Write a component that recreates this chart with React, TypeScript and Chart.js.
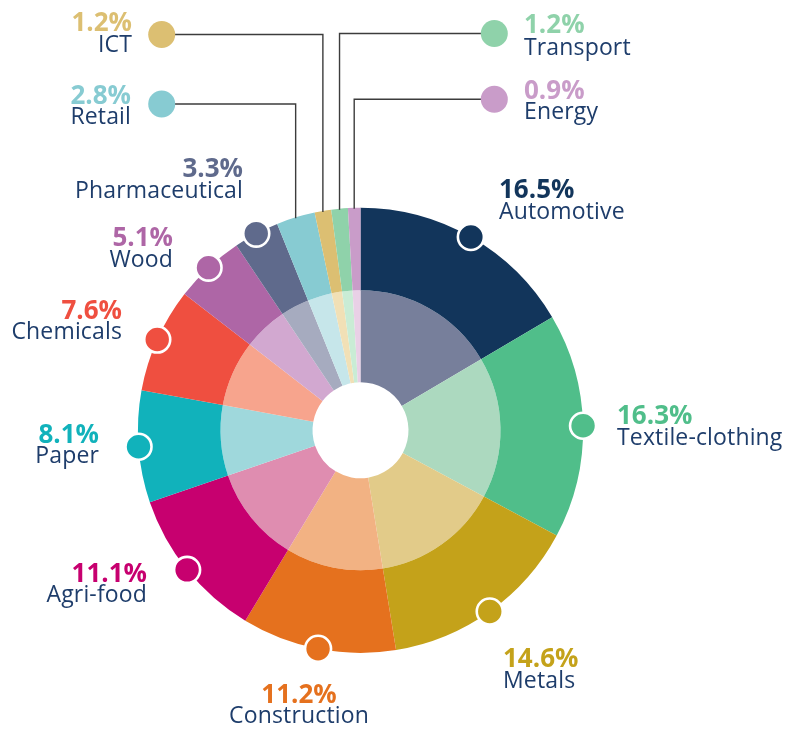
import React, { useEffect, useRef } from "react";
import { Chart, registerables } from "chart.js";

Chart.register(...registerables);

// ---- data ----
const sectors = [
  "Automotive",
  "Textile-clothing",
  "Metals",
  "Construction",
  "Agri-food",
  "Paper",
  "Chemicals",
  "Wood",
  "Pharmaceutical",
  "Retail",
  "ICT",
  "Transport",
  "Energy",
];
const shares = [16.5, 16.3, 14.6, 11.2, 11.1, 8.1, 7.6, 5.1, 3.3, 2.8, 1.2, 1.2, 0.9];
const percentLabels = ["16.5%", "16.3%", "14.6%", "11.2%", "11.1%", "8.1%", "7.6%", "5.1%", "3.3%", "2.8%", "1.2%", "1.2%", "0.9%"];

// ---- styles ----
const outerColors = [
  "#12355b", "#50be8a", "#c4a21a", "#e5711e", "#c7006f", "#11b2bb", "#ef4f40",
  "#ae66a6", "#5f6a8c", "#87cbd2", "#dcbf72", "#8fd2aa", "#c99cc9",
];
const innerColors = [
  "#777f9b", "#acd9bf", "#e2cb89", "#f2b283", "#df8db0", "#9fd8dc", "#f7a48d",
  "#d2a8d0", "#a6abbf", "#c6e6ea", "#f1e0b6", "#c9ecd5", "#e9d0e6",
];
const nameColor = "#1e3d6b";
const FONT = '"Open Sans", "Noto Sans", sans-serif';

// ---- label layout (annotation positions) ----
type Align = "left" | "right" | "center";
const labelLayout: { align: Align; x: number; y1: number; y2: number }[] = [
  { align: "left", x: 499, y1: 198, y2: 219 },
  { align: "left", x: 617, y1: 424, y2: 445 },
  { align: "left", x: 503, y1: 667, y2: 688 },
  { align: "center", x: 299, y1: 703, y2: 723 },
  { align: "right", x: 147, y1: 582, y2: 602 },
  { align: "right", x: 99, y1: 443, y2: 463 },
  { align: "right", x: 122, y1: 319, y2: 339 },
  { align: "right", x: 173, y1: 246, y2: 267 },
  { align: "right", x: 243, y1: 177, y2: 198 },
  { align: "right", x: 131, y1: 104, y2: 124 },
  { align: "right", x: 132, y1: 31, y2: 52 },
  { align: "left", x: 524, y1: 33, y2: 55 },
  { align: "left", x: 524, y1: 99, y2: 119 },
];
// dots placed away from the ring, joined by leader lines
const leaderDots: Record<number, { x: number; y: number }> = {
  9: { x: 161.7, y: 104 },
  10: { x: 161.7, y: 34.5 },
  11: { x: 494.3, y: 33.5 },
  12: { x: 494.3, y: 99.3 },
};

const labelPlugin = {
  id: "sectorLabels",
  afterDraw(chart: any) {
    const ctx = chart.ctx as CanvasRenderingContext2D;
    const meta = chart.getDatasetMeta(0);
    ctx.save();
    meta.data.forEach((arc: any, i: number) => {
      const { x, y, outerRadius, startAngle, endAngle } = arc.getProps(
        ["x", "y", "outerRadius", "startAngle", "endAngle"],
        true
      );
      const mid = (startAngle + endAngle) / 2;
      const px = x + outerRadius * Math.cos(mid);
      const py = y + outerRadius * Math.sin(mid);
      const lead = leaderDots[i];
      if (lead) {
        ctx.beginPath();
        ctx.strokeStyle = "#3c3c3c";
        ctx.lineWidth = 1.4;
        ctx.moveTo(lead.x, lead.y);
        ctx.lineTo(px, lead.y);
        ctx.lineTo(px, py + 1);
        ctx.stroke();
        ctx.beginPath();
        ctx.fillStyle = outerColors[i];
        ctx.arc(lead.x, lead.y, 13.5, 0, Math.PI * 2);
        ctx.fill();
      } else {
        ctx.beginPath();
        ctx.fillStyle = outerColors[i];
        ctx.strokeStyle = "#ffffff";
        ctx.lineWidth = 2.6;
        ctx.arc(px, py, 13, 0, Math.PI * 2);
        ctx.fill();
        ctx.stroke();
      }
      const lay = labelLayout[i];
      ctx.textAlign = lay.align;
      ctx.textBaseline = "alphabetic";
      (ctx as any).letterSpacing = "0px";
      ctx.font = `bold 26px ${FONT}`;
      ctx.fillStyle = outerColors[i];
      ctx.fillText(percentLabels[i], lay.x, lay.y1);
      (ctx as any).letterSpacing = "0.15px";
      ctx.font = `23px ${FONT}`;
      ctx.fillStyle = nameColor;
      ctx.fillText(sectors[i], lay.x, lay.y2);
    });
    (ctx as any).letterSpacing = "0px";
    ctx.restore();
  },
};

export default function App() {
  const ref = useRef<HTMLCanvasElement>(null);
  useEffect(() => {
    if (!ref.current) return;
    const chart = new Chart(ref.current, {
      type: "doughnut",
      data: {
        labels: sectors,
        datasets: [
          { data: shares, backgroundColor: outerColors, borderWidth: 0, weight: 82.6 },
          { data: shares, backgroundColor: innerColors, borderWidth: 0, weight: 92 },
        ],
      },
      options: {
        responsive: false,
        animation: false,
        devicePixelRatio: 1,
        cutout: "21.56%",
        layout: { padding: { left: 137.9, top: 207.7, right: 202.9, bottom: 76.1 } },
        plugins: { legend: { display: false }, tooltip: { enabled: false } },
        events: [],
      },
      plugins: [labelPlugin],
    } as any);
    return () => chart.destroy();
  }, []);
  return (
    <div style={{ position: "absolute", left: 0, top: 0, width: 786, height: 729, background: "#fff" }}>
      <canvas ref={ref} width={786} height={729} style={{ display: "block" }} />
    </div>
  );
}
